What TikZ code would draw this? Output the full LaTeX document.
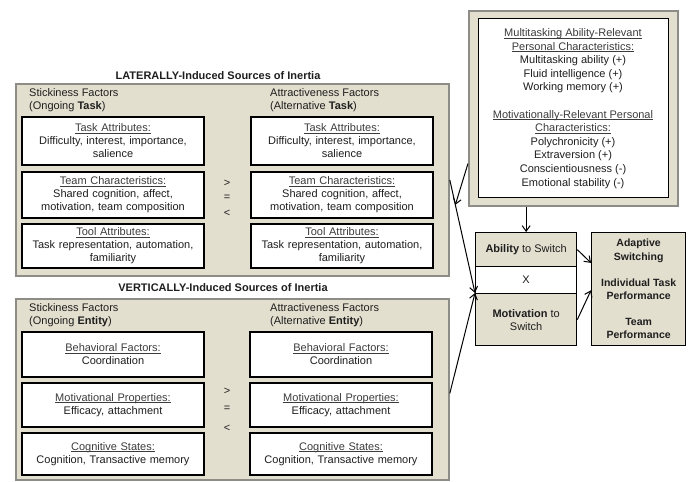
\documentclass[tikz,border=0pt]{standalone}
\usepackage{fontspec}
\setmainfont{Liberation Sans}
\usetikzlibrary{arrows.meta,calc}
\definecolor{beige}{HTML}{E3DFCF}
\definecolor{pgray}{HTML}{8E8C86}
\definecolor{hdrc}{HTML}{3C3C3C}
\definecolor{txtc}{HTML}{1E1E1E}
\newcommand\boxhead[1]{\textcolor{hdrc}{\setbox0\hbox{#1}\rlap{\rule[-1.6pt]{\wd0}{0.55pt}}\box0}}
\begin{document}
\begin{tikzpicture}[x=1pt,y=-1pt,
  font=\fontsize{11}{13}\selectfont, text=txtc,
  panel/.style={draw=pgray, fill=beige, line width=1.8pt, inner sep=0pt, anchor=north west},
  wbox/.style={draw=black, fill=white, line width=1.3pt, minimum width=182pt, text width=180pt, align=center, inner sep=0pt},
  bbox/.style={draw=black, fill=beige, line width=1.3pt, align=center, inner sep=0pt, anchor=north west},
  xbox/.style={draw=black, fill=white, line width=1.3pt, align=center, inner sep=0pt, anchor=north west},
  ptitle/.style={font=\fontsize{11}{13}\selectfont\bfseries},
  plabel/.style={align=left, anchor=north west, inner sep=0pt},
  cmp/.style={inner sep=0pt},
  arr/.style={line width=1pt, -{Straight Barb[length=5.5pt,width=8pt,line width=1pt]}}
]
\useasboundingbox (0,0) rectangle (689,482);

% ---------- LATERAL panel ----------
\node[ptitle] (lattitle) at (218,76) {LATERALLY-Induced Sources of Inertia};
\node[panel, minimum width=433pt, minimum height=192pt] (lat) at (15,83) {};
\node[plabel] (latst) at (29,88.5) {Stickiness Factors\\(Ongoing \textbf{Task})};
\node[plabel] (latat) at (270,88.5) {Attractiveness Factors\\(Alternative \textbf{Task})};

\node[wbox, minimum height=48pt] (l1) at (113,141) {\boxhead{Task Attributes:}\\Difficulty, interest, importance,\\salience};
\node[wbox, minimum height=46pt] (l2) at (113,195) {\boxhead{Team Characteristics:}\\Shared cognition, affect,\\motivation, team composition};
\node[wbox, minimum height=44pt] (l3) at (113,246) {\boxhead{Tool Attributes:}\\Task representation, automation,\\familiarity};
\node[wbox, minimum height=48pt] (r1) at (342,141) {\boxhead{Task Attributes:}\\Difficulty, interest, importance,\\salience};
\node[wbox, minimum height=46pt] (r2) at (342,195) {\boxhead{Team Characteristics:}\\Shared cognition, affect,\\motivation, team composition};
\node[wbox, minimum height=44pt] (r3) at (342,246) {\boxhead{Tool Attributes:}\\Task representation, automation,\\familiarity};
\node[cmp] (lg) at (227,183) {>};
\node[cmp] (le) at (227,198) {=};
\node[cmp] (ll) at (227,213) {<};

% ---------- VERTICAL panel ----------
\node[ptitle] (verttitle) at (223,288) {VERTICALLY-Induced Sources of Inertia};
\node[panel, minimum width=433pt, minimum height=181pt] (vert) at (15,298) {};
\node[plabel] (vst) at (29,303.5) {Stickiness Factors\\(Ongoing \textbf{Entity})};
\node[plabel] (vat) at (270,303.5) {Attractiveness Factors\\(Alternative \textbf{Entity})};

\node[wbox, minimum height=45pt] (vl1) at (113,354.5) {\boxhead{Behavioral Factors:}\\Coordination};
\node[wbox, minimum height=44pt] (vl2) at (113,405) {\boxhead{Motivational Properties:}\\Efficacy, attachment};
\node[wbox, minimum height=42pt] (vl3) at (113,454) {\boxhead{Cognitive States:}\\Cognition, Transactive memory};
\node[wbox, minimum height=45pt] (vr1) at (341,354.5) {\boxhead{Behavioral Factors:}\\Coordination};
\node[wbox, minimum height=44pt] (vr2) at (341,405) {\boxhead{Motivational Properties:}\\Efficacy, attachment};
\node[wbox, minimum height=42pt] (vr3) at (341,454) {\boxhead{Cognitive States:}\\Cognition, Transactive memory};
\node[cmp] (vg) at (227,391) {>};
\node[cmp] (ve) at (227,409) {=};
\node[cmp] (vl) at (227,428) {<};

% ---------- Personal characteristics ----------
\node[panel, minimum width=209pt, minimum height=195pt] (pers) at (468,10) {};
\node[draw=black, fill=white, line width=1.3pt, minimum width=190pt, minimum height=179pt, inner sep=0pt, anchor=north west] (persin) at (478,18) {};
\node[align=center, font=\fontsize{11}{13.6}\selectfont] (perstext) at (573,108.5)
 {\boxhead{Multitasking Ability-Relevant}\\\boxhead{Personal Characteristics:}\\Multitasking ability (+)\\Fluid intelligence (+)\\Working memory (+)\\[13.6pt]\boxhead{Motivationally-Relevant Personal}\\\boxhead{Characteristics:}\\Polychronicity (+)\\Extraversion (+)\\Conscientiousness (-)\\Emotional stability (-)};

% ---------- Ability x Motivation ----------
\node[bbox, minimum width=101pt, minimum height=34pt] (abil) at (475,232) {\textbf{Ability} to Switch};
\node[xbox, minimum width=101pt, minimum height=27pt] (xx) at (475,266) {X};
\node[bbox, minimum width=101pt, minimum height=52pt] (mot) at (475,293) {\textbf{Motivation} to\\Switch};

% ---------- Outcomes ----------
\node[bbox, minimum width=94pt, minimum height=113pt, font=\fontsize{10.5}{13.2}\selectfont\bfseries] (outc) at (591,232)
 {Adaptive\\Switching\\[13pt]Individual Task\\Performance\\[13pt]Team\\Performance};

% ---------- Connectors ----------
\draw[arr] (abil.north |- pers.south) -- (abil.north);
\draw[arr] (abil.east) -- ($(outc.north west)!0.27!(outc.south west)$);
\draw[arr] (mot.east) -- ($(outc.north west)!0.51!(outc.south west)$);
\draw[arr] (lat.east) -- (mot.north west);
\draw[arr] ($(vert.east)+(0,4)$) -- (mot.north west);
\coordinate (modtip) at ($(lat.east)!0.22!(mot.north west)$);
\coordinate (modstart) at ($(pers.north west)!0.78!(pers.south west)$);
\draw[arr] (modstart) -- (modtip);
\end{tikzpicture}
\end{document}
